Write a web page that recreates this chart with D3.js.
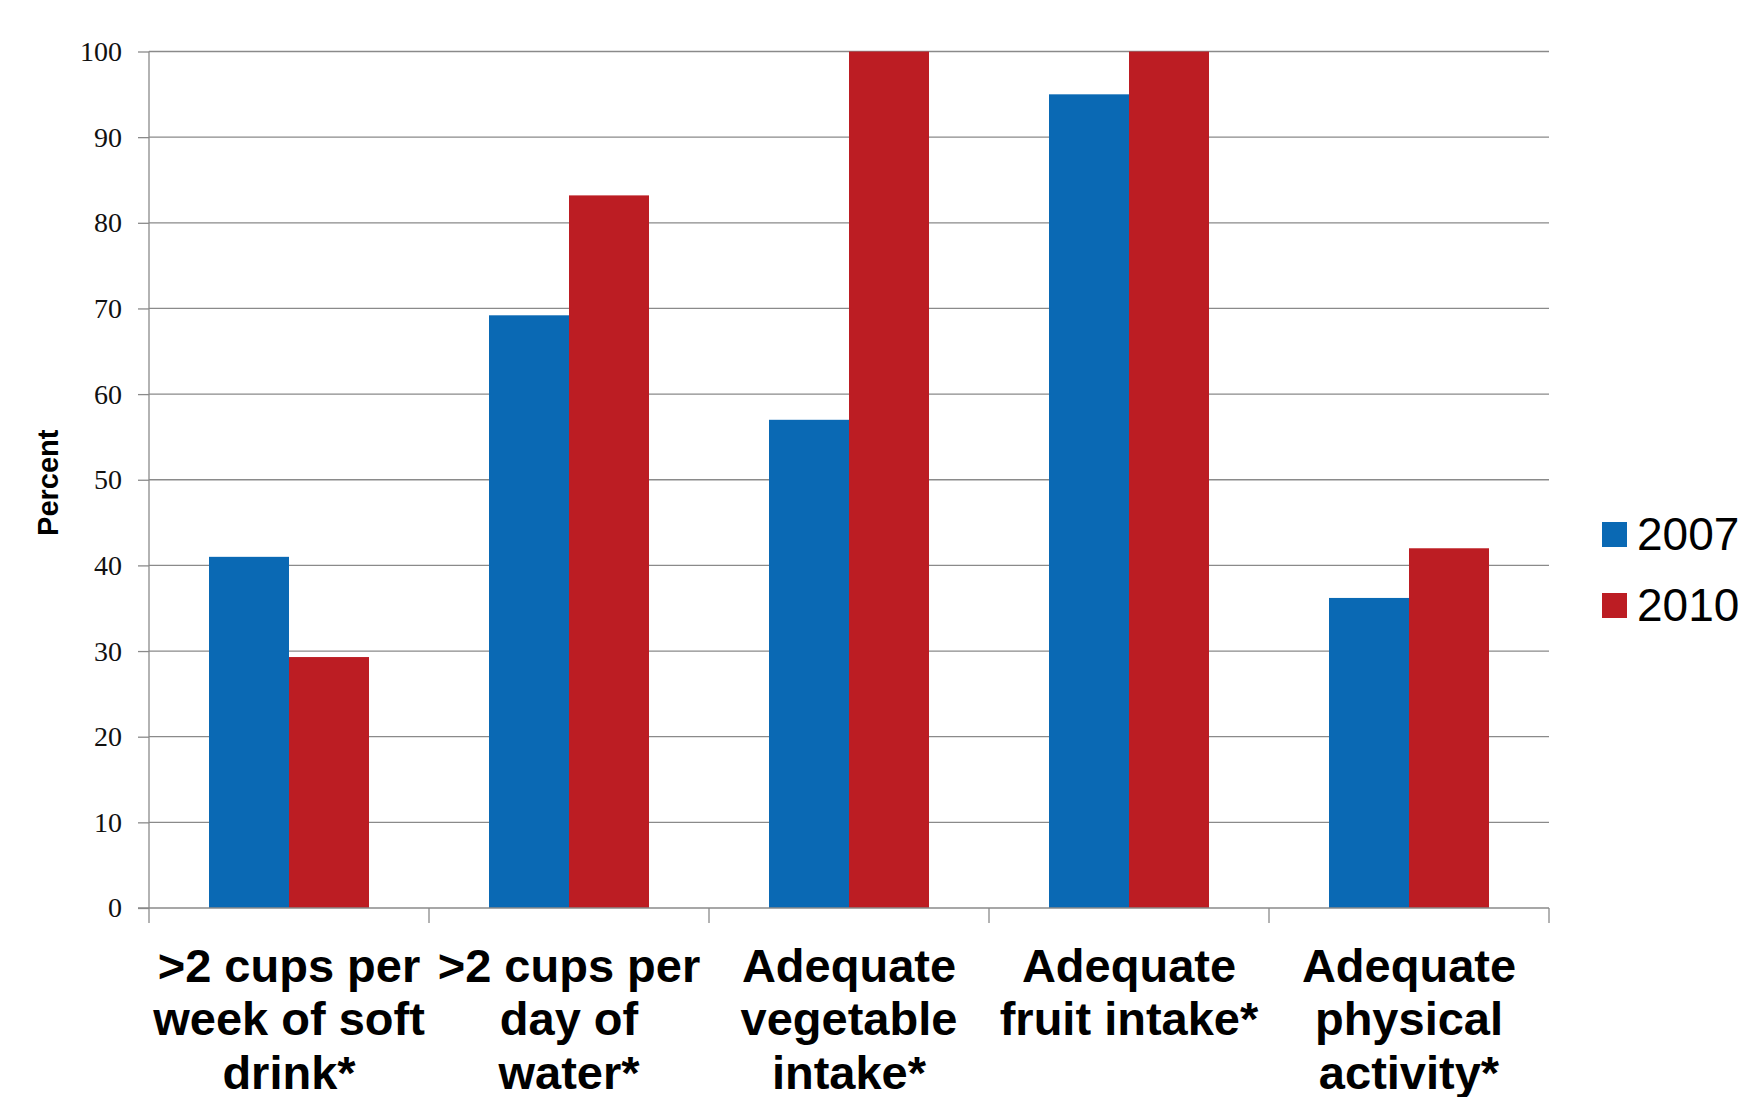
<!DOCTYPE html>
<html>
<head>
<meta charset="utf-8">
<script src="https://cdn.jsdelivr.net/npm/d3@7"></script>
<style>
  html, body { margin: 0; padding: 0; background: #fff; }
  svg { display: block; }
</style>
</head>
<body>
<svg id="chart" width="1744" height="1097"></svg>
<script>
// Survey categories (each label split into its display lines)
const categories = [
  ">2 cups per week of soft drink*",
  ">2 cups per day of water*",
  "Adequate vegetable intake*",
  "Adequate fruit intake*",
  "Adequate physical activity*"
];
const categoryLines = [
  [">2 cups per", "week of soft", "drink*"],
  [">2 cups per", "day of", "water*"],
  ["Adequate", "vegetable", "intake*"],
  ["Adequate", "fruit intake*"],
  ["Adequate", "physical", "activity*"]
];
const years = ["2007", "2010"];
const values2007 = [41, 69.2, 57, 95, 36.2];
const values2010 = [29.3, 83.2, 100, 100, 42];
const yTicks = [0, 10, 20, 30, 40, 50, 60, 70, 80, 90, 100];
const colors = ["#0a69b4", "#bc1d23"];

const svg = d3.select("#chart");
const margin = { left: 149, right: 195, top: 51.5, bottom: 189 };
const W = 1744, H = 1097;
const plotW = W - margin.left - margin.right;
const plotH = H - margin.top - margin.bottom;

const g = svg.append("g").attr("transform", `translate(${margin.left},${margin.top})`);

const x0 = d3.scaleBand().domain(categories).range([0, plotW]).paddingInner(0).paddingOuter(0);
const groupPad = 60 / 280;
const x1 = d3.scaleBand().domain(years)
  .range([x0.bandwidth() * groupPad, x0.bandwidth() * (1 - groupPad)]);
const y = d3.scaleLinear().domain([0, 100]).range([plotH, 0]);

// horizontal gridlines
g.append("g")
  .selectAll("line")
  .data(yTicks.filter(t => t > 0))
  .join("line")
  .attr("x1", 0).attr("x2", plotW)
  .attr("y1", d => y(d)).attr("y2", d => y(d))
  .attr("stroke", "#8a8a8a").attr("stroke-width", 1.3);

// bars
const series = [values2007, values2010];
const rows = categories.map((c, i) => ({ c, vals: years.map((yr, k) => ({ yr, k, v: series[k][i] })) }));
const grp = g.append("g").selectAll("g").data(rows).join("g")
  .attr("transform", d => `translate(${x0(d.c)},0)`);
grp.selectAll("rect").data(d => d.vals).join("rect")
  .attr("x", d => x1(d.yr))
  .attr("width", x1.bandwidth())
  .attr("y", d => y(d.v))
  .attr("height", d => y(0) - y(d.v))
  .attr("fill", d => colors[d.k]);

// y axis
const yAxis = d3.axisLeft(y).tickValues(yTicks).tickSize(11).tickPadding(16);
const ya = g.append("g").call(yAxis);
ya.select(".domain").attr("stroke", "#8a8a8a").attr("stroke-width", 1.3)
  .attr("d", `M0,${y(100)}V${y(0)}`);
ya.selectAll(".tick line").attr("stroke", "#8a8a8a").attr("stroke-width", 1.3);
ya.selectAll(".tick text")
  .attr("font-family", "'Liberation Serif', 'Times New Roman', serif")
  .attr("font-size", 28).attr("fill", "#111");

// x axis line and category boundary ticks
const xa = g.append("g").attr("transform", `translate(0,${plotH})`);
xa.append("line").attr("x1", -11).attr("x2", plotW)
  .attr("stroke", "#8a8a8a").attr("stroke-width", 1.3);
const bounds = categories.map(c => x0(c)).concat([plotW]);
xa.selectAll("line.tk").data(bounds).join("line").attr("class", "tk")
  .attr("x1", d => d).attr("x2", d => d).attr("y1", 0).attr("y2", 15)
  .attr("stroke", "#8a8a8a").attr("stroke-width", 1.3);

// category labels
categories.forEach((c, i) => {
  const t = xa.append("text")
    .attr("text-anchor", "middle")
    .attr("font-family", "'Liberation Sans', Arial, sans-serif")
    .attr("font-weight", "bold").attr("font-size", 47).attr("fill", "#000");
  categoryLines[i].forEach((line, j) => {
    t.append("tspan").attr("x", x0(c) + x0.bandwidth() / 2)
      .attr("y", 74 + j * 53.3).text(line);
  });
});

// y axis title
svg.append("text")
  .attr("transform", `translate(58,${margin.top + plotH / 2 + 3}) rotate(-90)`)
  .attr("text-anchor", "middle")
  .attr("font-family", "'Liberation Sans', Arial, sans-serif")
  .attr("font-weight", "bold").attr("font-size", 29).attr("fill", "#000")
  .text("Percent");

// legend
const legend = svg.append("g");
years.forEach((yr, k) => {
  const ly = 522 + k * 71;
  legend.append("rect").attr("x", 1602).attr("y", ly).attr("width", 25).attr("height", 25)
    .attr("fill", colors[k]);
  legend.append("text").attr("x", 1637).attr("y", ly + 28)
    .attr("font-family", "'Liberation Sans', Arial, sans-serif")
    .attr("font-size", 46).attr("fill", "#000").text(yr);
});
</script>
</body>
</html>
